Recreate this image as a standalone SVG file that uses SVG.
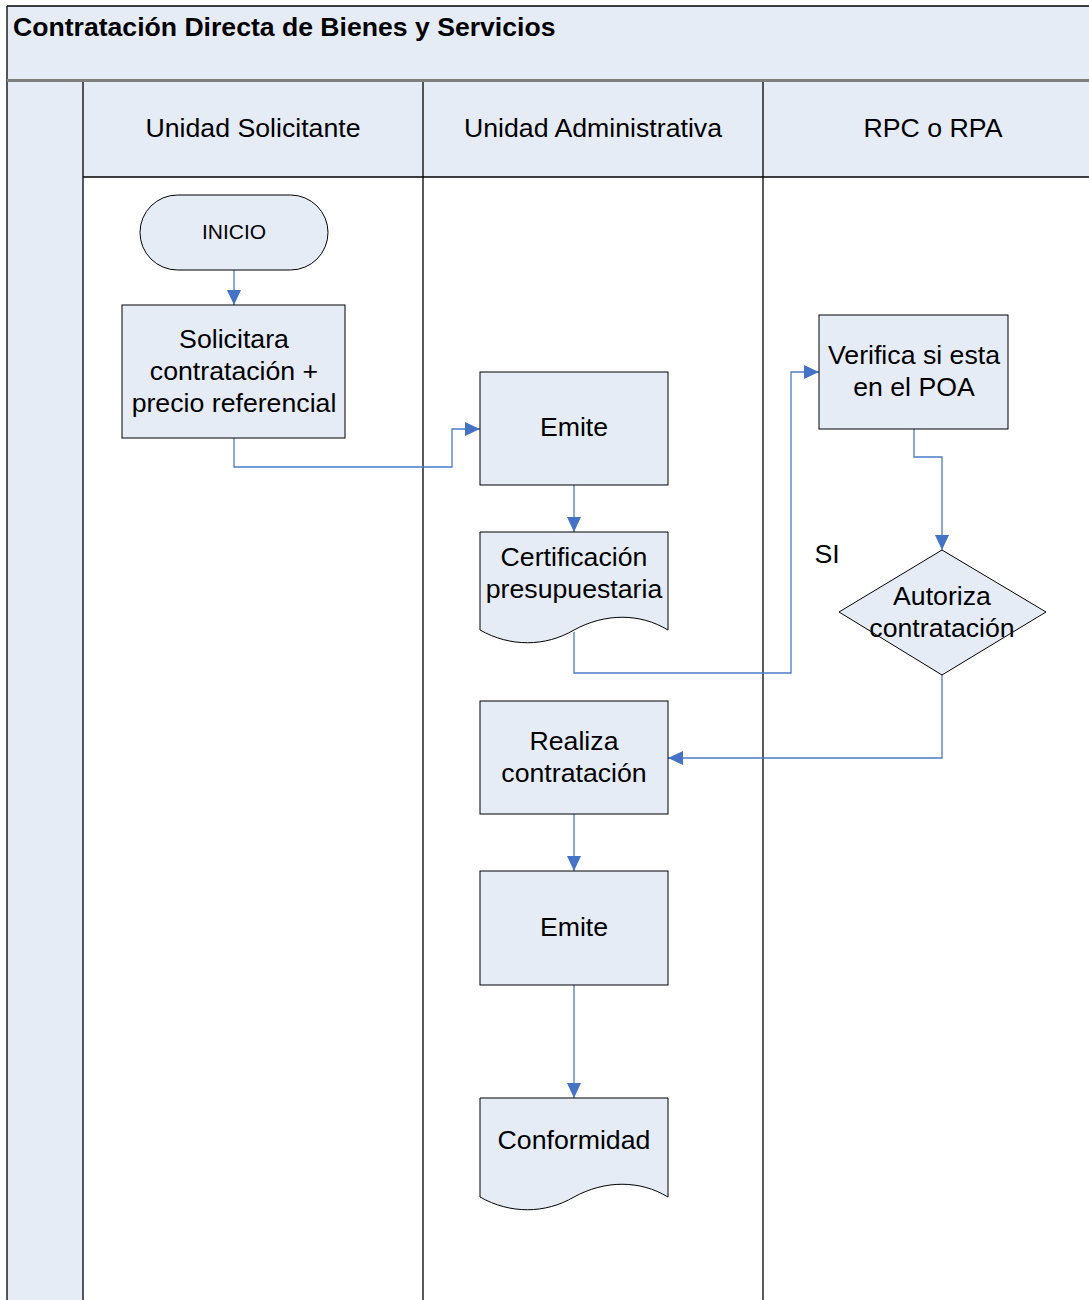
<svg xmlns="http://www.w3.org/2000/svg" width="1089" height="1300" viewBox="0 0 1089 1300">
<style>
.fill{fill:#E6ECF6}
.shape{fill:#E6ECF6;stroke:#000;stroke-width:1}
.lane{stroke:#000;stroke-width:1.3;fill:none}
.t{font-family:"Liberation Sans",Arial,sans-serif;font-size:26.7px;fill:#000;text-anchor:middle}
.title{font-family:"Liberation Sans",Arial,sans-serif;font-size:26.6px;font-weight:bold;fill:#000}
.c{fill:none;stroke:#4A7BC8;stroke-width:1.3}
</style>
<defs>
<marker id="ah" markerUnits="userSpaceOnUse" markerWidth="16" markerHeight="14" refX="15" refY="7" orient="auto">
<path d="M0,0 L15,7 L0,14 Z" fill="#4472C4"/>
</marker>
</defs>
<rect width="1089" height="1300" fill="#fff"/>
<g id="pool">
<rect class="fill" x="7" y="6" width="1096" height="74"/>
<rect class="fill" x="7" y="81" width="76" height="1230"/>
<rect class="fill" x="83" y="81" width="1020" height="96"/>
<line x1="7" y1="6" x2="1103" y2="6" class="lane"/>
<line x1="7" y1="6" x2="7" y2="1300" class="lane"/>
<line x1="7" y1="80.5" x2="1103" y2="80.5" stroke="#7f7f7f" stroke-width="3"/>
<line x1="83" y1="82" x2="83" y2="1300" class="lane"/>
<line x1="423" y1="82" x2="423" y2="1300" class="lane"/>
<line x1="763" y1="82" x2="763" y2="1300" class="lane"/>
<line x1="83" y1="177" x2="1103" y2="177" class="lane"/>
<text class="title" x="13" y="36">Contratación Directa de Bienes y Servicios</text>
<text class="t" x="253" y="137">Unidad Solicitante</text>
<text class="t" x="593" y="137">Unidad Administrativa</text>
<text class="t" x="933" y="137">RPC o RPA</text>
</g>
<g id="connectors">
<path class="c" d="M234,270 V305" marker-end="url(#ah)"/>
<path class="c" d="M234,438 V467 H452 V429 H480" marker-end="url(#ah)"/>
<path class="c" d="M574,485 V532" marker-end="url(#ah)"/>
<path class="c" d="M574,632 V673 H791 V372 H819" marker-end="url(#ah)"/>
<path class="c" d="M914,429 V457 H942 V550" marker-end="url(#ah)"/>
<path class="c" d="M942,675 V758 H668" marker-end="url(#ah)"/>
<path class="c" d="M574,814 V871" marker-end="url(#ah)"/>
<path class="c" d="M574,985 V1098" marker-end="url(#ah)"/>
<text class="t" x="827" y="563">SI</text>
</g>
<g id="inicio">
<rect class="shape" x="140" y="195" width="188" height="75" rx="37.5"/>
<text class="t" x="234" y="239" style="font-size:21px">INICIO</text>
</g>
<g id="solicitara">
<rect class="shape" x="122" y="305" width="223" height="133"/>
<text class="t" x="234" y="348">Solicitara</text>
<text class="t" x="234" y="380">contratación +</text>
<text class="t" x="234" y="412">precio referencial</text>
</g>
<g id="emite1">
<rect class="shape" x="480" y="372" width="188" height="113"/>
<text class="t" x="574" y="436">Emite</text>
</g>
<g id="certificacion">
<path class="shape" d="M480,532 H668 V630 C640,613 605,613 574,630 C545,647 510,647 480,630 Z"/>
<text class="t" x="574" y="566">Certificación</text>
<text class="t" x="574" y="598">presupuestaria</text>
</g>
<g id="verifica">
<rect class="shape" x="819" y="315" width="189" height="114"/>
<text class="t" x="914" y="364">Verifica si esta</text>
<text class="t" x="914" y="396">en el POA</text>
</g>
<g id="autoriza">
<path class="shape" d="M942,550 L1046,612 L942,675 L839,612 Z"/>
<text class="t" x="942" y="605">Autoriza</text>
<text class="t" x="942" y="637">contratación</text>
</g>
<g id="realiza">
<rect class="shape" x="480" y="701" width="188" height="113"/>
<text class="t" x="574" y="750">Realiza</text>
<text class="t" x="574" y="782">contratación</text>
</g>
<g id="emite2">
<rect class="shape" x="480" y="871" width="188" height="114"/>
<text class="t" x="574" y="936">Emite</text>
</g>
<g id="conformidad">
<path class="shape" d="M480,1098 H668 V1197 C640,1180 605,1180 574,1197 C545,1214 510,1214 480,1197 Z"/>
<text class="t" x="574" y="1149">Conformidad</text>
</g>
</svg>
